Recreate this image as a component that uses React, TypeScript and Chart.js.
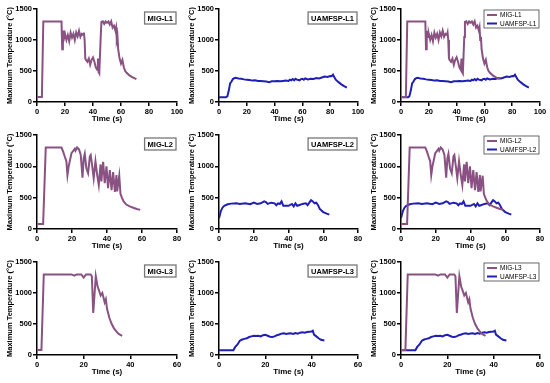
import React, { useEffect, useRef } from 'react';
import { Chart, registerables } from 'chart.js';
Chart.register(...registerables);

const FONT = "'Liberation Sans', Arial, sans-serif";
const MIG_COLOR = '#8A5282';
const UAM_COLOR = '#1F1FB4';

const yMax = 1500;
const yStep = 500;
const xStep = 20;
const xMaxes = [100, 80, 60];

const migL1Time = [0, 3.5, 4.5, 17.5, 18, 18.5, 19, 19.5, 20, 21, 22, 23, 24, 25, 26, 27, 28, 29, 30, 31, 32, 33, 33.5, 34, 34.5, 35, 36, 37, 38, 39, 40, 41, 42, 43, 43.5, 44, 44.5, 45.5, 46, 47, 48, 49, 50, 51, 52, 53, 54, 55, 56, 56.5, 57, 57.5, 58, 59, 60, 61, 62, 63, 64, 66, 68, 71];
const migL1Temp = [80, 80, 1300, 1300, 850, 1000, 1150, 1050, 1100, 1000, 1080, 980, 1120, 1040, 1100, 1000, 1120, 1060, 1150, 1050, 1100, 1080, 1120, 1000, 700, 680, 650, 700, 600, 680, 720, 650, 560, 520, 700, 480, 460, 1050, 1290, 1300, 1260, 1300, 1280, 1300, 1250, 1300, 1200, 1230, 1150, 1200, 1000, 1050, 850, 700, 620, 680, 560, 500, 470, 430, 400, 370];

const uamL1Time = [0, 5, 6, 7, 8, 9, 10, 11, 12, 13, 14, 16, 18, 20, 22, 24, 26, 28, 30, 32, 34, 36, 38, 40, 42, 44, 46, 48, 50, 51, 52, 53, 54, 55, 56, 58, 59, 60, 61, 62, 64, 66, 68, 70, 72, 74, 76, 78, 80, 81, 82, 83, 84, 86, 88, 90, 92];
const uamL1Temp = [75, 75, 90, 180, 300, 330, 370, 385, 390, 385, 378, 375, 365, 360, 355, 345, 350, 340, 340, 335, 330, 320, 335, 335, 340, 335, 340, 345, 340, 360, 350, 370, 350, 375, 360, 350, 370, 375, 360, 380, 365, 375, 370, 385, 380, 395, 410, 405, 420, 415, 440, 400, 360, 320, 285, 255, 230];

const migL2Time = [0, 3.5, 5, 14, 15, 15.8, 16.8, 17.4, 18.1, 19.7, 21.6, 22, 22.9, 24, 25, 26, 26.7, 27.3, 28.2, 29.2, 30.2, 30.7, 31.7, 32.4, 33.4, 34.4, 35.3, 36.3, 36.8, 37.4, 37.8, 38.7, 39.7, 40.6, 41.6, 42.6, 43.5, 44.5, 45.4, 45.8, 47, 47.7, 48.5, 49.5, 51, 53, 55, 57, 59];
const migL2Temp = [80, 80, 1300, 1300, 1230, 1160, 1080, 860, 1000, 1210, 1280, 1250, 1300, 1270, 1180, 820, 1130, 1200, 970, 890, 1160, 1180, 970, 810, 1080, 860, 700, 1030, 760, 970, 1070, 730, 1000, 650, 940, 620, 910, 590, 860, 600, 850, 560, 500, 440, 390, 360, 340, 320, 305];

const uamL2Time = [0, 1, 2, 3, 5, 7, 10, 12, 15, 18, 20, 22, 24, 26, 27, 28, 30, 32, 33, 34, 35, 36, 37, 38, 40, 42, 43, 44, 45, 46, 48, 50, 51, 52, 53, 54, 55, 56, 57, 58, 60, 62, 63.5];
const uamL2Temp = [170, 280, 340, 370, 395, 405, 410, 400, 410, 395, 420, 400, 410, 440, 430, 400, 420, 410, 380, 410, 400, 440, 370, 370, 370, 400, 360, 410, 370, 380, 400, 410, 380, 420, 460, 440, 410, 420, 380, 320, 270, 245, 230];

const migL3Time = [0, 1.9, 2.9, 14.8, 16, 17, 19, 20, 21, 23, 23.5, 24.1, 25.2, 26, 26.5, 27.3, 28, 29, 29.5, 30, 31, 32, 33, 34, 35, 36.5];
const migL3Temp = [80, 80, 1300, 1300, 1280, 1300, 1300, 1250, 1300, 1300, 1270, 680, 1270, 1100, 1050, 960, 1000, 850, 900, 750, 600, 500, 430, 380, 340, 310];

const uamL3Time = [0, 6.2, 7, 8, 9, 10, 11, 12, 13, 14, 15, 16, 17, 18, 19, 20, 21, 22, 23, 24, 25, 26, 27, 28, 29, 30, 31, 32, 33, 34, 35, 36, 37, 38, 39, 40, 40.5, 41, 42, 43, 44, 45.5];
const uamL3Temp = [75, 75, 130, 170, 230, 250, 260, 270, 290, 300, 310, 305, 310, 300, 320, 325, 310, 295, 290, 300, 320, 330, 345, 350, 340, 345, 350, 340, 355, 345, 360, 365, 360, 370, 375, 380, 390, 330, 300, 270, 245, 235];

type Series = { label: string; time: number[]; temp: number[]; color: string };

const rowTops = [3, 129, 256];
const rowHeights = [124, 125, 124];
const colLefts = [4, 186, 368];
const colWidths = [183, 182, 182];

interface PanelProps {
  left: number; top: number; width: number; height: number;
  xMax: number; series: Series[]; tag?: string; legend?: boolean;
}

function Panel({ left, top, width, height, xMax, series, tag, legend }: PanelProps) {
  const ref = useRef<HTMLCanvasElement>(null);
  useEffect(() => {
    const boxPlugin = {
      id: 'boxPlugin',
      afterDraw(chart: any) {
        const { ctx, chartArea } = chart;
        ctx.save();
        if (tag) {
          ctx.font = `bold 7.5px ${FONT}`;
          const w = ctx.measureText(tag).width + 6;
          const h = 12;
          const x = chartArea.right - 1 - w;
          const y = chartArea.top + 3;
          ctx.fillStyle = '#fff';
          ctx.fillRect(x, y, w, h);
          ctx.strokeStyle = '#777';
          ctx.lineWidth = 1.3;
          ctx.strokeRect(x, y, w, h);
          ctx.fillStyle = '#000';
          ctx.textBaseline = 'middle';
          ctx.fillText(tag, x + 3, y + h / 2 + 0.5);
        }
        if (legend) {
          const w = 55, h = 18;
          const x = chartArea.right - 1 - w;
          const y = chartArea.top + 1;
          ctx.fillStyle = '#fff';
          ctx.fillRect(x, y, w, h);
          ctx.strokeStyle = '#444';
          ctx.lineWidth = 0.8;
          ctx.strokeRect(x, y, w, h);
          ctx.font = `6.5px ${FONT}`;
          ctx.textBaseline = 'middle';
          series.forEach((s, i) => {
            const yy = y + 5 + i * 8.5;
            ctx.strokeStyle = s.color;
            ctx.lineWidth = 2;
            ctx.beginPath();
            ctx.moveTo(x + 3, yy);
            ctx.lineTo(x + 13, yy);
            ctx.stroke();
            ctx.fillStyle = '#000';
            ctx.fillText(s.label, x + 16, yy + 0.5);
          });
        }
        ctx.restore();
      },
    };
    const tickFont = { family: FONT, size: 7.5, weight: 'bold' as const };
    const plain = (v: any) => String(v);
    const chart = new Chart(ref.current!, {
      type: 'line',
      data: {
        datasets: series.map((s) => ({
          label: s.label,
          data: s.time.map((t, i) => ({ x: t, y: s.temp[i] })),
          borderColor: s.color,
          backgroundColor: s.color,
          borderWidth: 2,
          pointRadius: 0,
          fill: false,
          tension: 0,
        })),
      },
      options: {
        responsive: false,
        animation: false,
        devicePixelRatio: 1,
        layout: { padding: { top: 6, right: 10, left: 0, bottom: 0 } },
        plugins: { legend: { display: false }, tooltip: { enabled: false } },
        scales: {
          x: {
            type: 'linear',
            min: 0,
            max: xMax,
            afterFit: (s: any) => { s.height = 25; },
            ticks: { stepSize: xStep, padding: 1, color: '#000', font: tickFont, maxRotation: 0, callback: plain },
            grid: { display: true, drawOnChartArea: false, drawTicks: true, tickLength: 4, color: '#000', lineWidth: 1.5 },
            border: { display: true, color: '#000', width: 1.5 },
            title: { display: true, text: 'Time (s)', color: '#000', font: { family: FONT, size: 8, weight: 'bold' as const }, padding: { top: 0, bottom: 3 } },
          },
          y: {
            type: 'linear',
            min: 0,
            max: yMax,
            afterFit: (s: any) => { s.width = 33; },
            ticks: { stepSize: yStep, padding: 1, color: '#000', font: tickFont, callback: plain },
            grid: { display: true, drawOnChartArea: false, drawTicks: true, tickLength: 4, color: '#000', lineWidth: 1.5 },
            border: { display: true, color: '#000', width: 1.5 },
            title: { display: true, text: 'Maximum Temperature (°C)', color: '#000', font: tickFont, padding: { top: 1, bottom: 0 } },
          },
        },
      },
      plugins: [boxPlugin],
    });
    return () => chart.destroy();
  }, []);
  return (
    <canvas
      ref={ref}
      width={width}
      height={height}
      style={{ position: 'absolute', left, top, width, height }}
    />
  );
}

const rows = [
  { n: 'L1', mig: { t: migL1Time, v: migL1Temp }, uam: { t: uamL1Time, v: uamL1Temp } },
  { n: 'L2', mig: { t: migL2Time, v: migL2Temp }, uam: { t: uamL2Time, v: uamL2Temp } },
  { n: 'L3', mig: { t: migL3Time, v: migL3Temp }, uam: { t: uamL3Time, v: uamL3Temp } },
];

export default function App() {
  return (
    <div style={{ position: 'fixed', left: 0, top: 0, width: 550, height: 383, background: '#fff' }}>
      {rows.map((r, ri) => {
        const mig: Series = { label: 'MIG-' + r.n, time: r.mig.t, temp: r.mig.v, color: MIG_COLOR };
        const uam: Series = { label: 'UAMFSP-' + r.n, time: r.uam.t, temp: r.uam.v, color: UAM_COLOR };
        const common = { top: rowTops[ri], height: rowHeights[ri], xMax: xMaxes[ri] };
        return (
          <React.Fragment key={r.n}>
            <Panel {...common} left={colLefts[0]} width={colWidths[0]} series={[mig]} tag={mig.label} />
            <Panel {...common} left={colLefts[1]} width={colWidths[1]} series={[uam]} tag={uam.label} />
            <Panel {...common} left={colLefts[2]} width={colWidths[2]} series={[mig, uam]} legend />
          </React.Fragment>
        );
      })}
    </div>
  );
}
